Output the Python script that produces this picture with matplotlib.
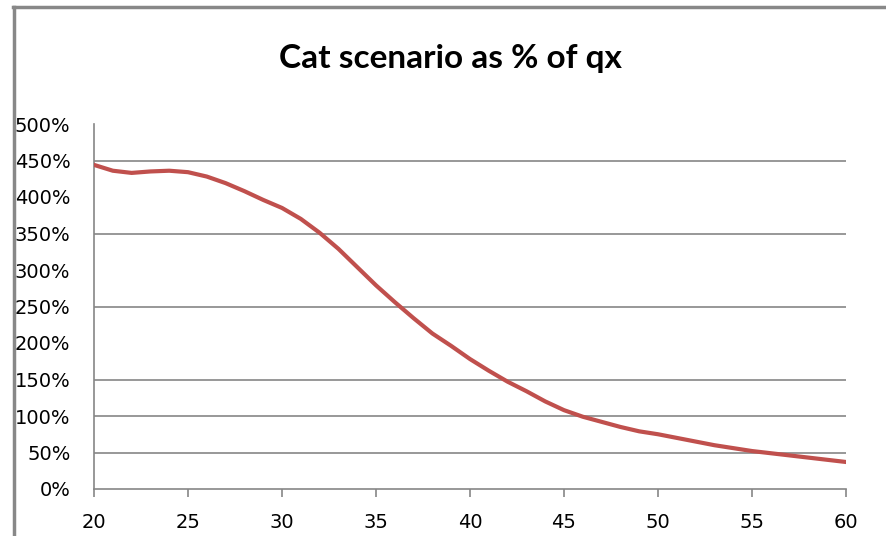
import matplotlib
matplotlib.use("Agg")
import matplotlib.pyplot as plt
from matplotlib.lines import Line2D
from matplotlib.ticker import FuncFormatter

ages = list(range(20, 61))
pct_of_qx = [444, 436, 433, 435, 436, 434, 428, 419, 408, 396,
             385, 370, 351, 329, 304, 279, 256, 234, 213, 196,
             178, 162, 147, 134, 120, 108, 99, 92, 85, 79,
             75, 70, 65, 60, 56, 52, 49, 46, 43, 40, 37]
x_ticks = [20, 25, 30, 35, 40, 45, 50, 55, 60]
y_ticks = [0, 50, 100, 150, 200, 250, 300, 350, 400, 450, 500]
visible_grid = [0, 50, 100, 150, 250, 350, 450]
title = "Cat scenario as % of qx"

W, H = 887, 536
fig = plt.figure(figsize=(W / 100, H / 100), dpi=100)
ax = fig.add_axes([94 / W, 1 - 489 / H, (846 - 94) / W, (489 - 124) / H])

grid_c = "#868686"
ax.plot(ages, pct_of_qx, color="#C0504D", lw=3.0, solid_joinstyle="round", zorder=3)
ax.set_xlim(20, 60)
ax.set_ylim(0, 500)

ax.set_xticks(x_ticks)
ax.set_yticks(y_ticks)
ax.set_yticks(visible_grid, minor=True)
ax.yaxis.set_major_formatter(FuncFormatter(lambda v, p: f"{int(v)}%"))
ax.tick_params(axis="y", which="major", length=0, pad=17, labelsize=14, labelcolor="black")
ax.tick_params(axis="y", which="minor", length=6, width=1.2, color=grid_c, direction="out")
ax.tick_params(axis="x", which="major", length=6, width=1.2, color=grid_c, pad=11,
               labelsize=14, labelcolor="black")
ax.grid(False)
for v in visible_grid[1:]:
    ax.axhline(v, color=grid_c, lw=1.2, zorder=1)

for s in ["top", "right"]:
    ax.spines[s].set_visible(False)
for s in ["left", "bottom"]:
    ax.spines[s].set_color(grid_c)
    ax.spines[s].set_linewidth(1.2)

fig.text(450 / W, 1 - 68 / H, title, ha="center", va="baseline",
         fontsize=24, fontweight="bold", family=["Lato", "DejaVu Sans"])

# chart-area border (left and top edges visible)
fig.add_artist(Line2D([14 / W, 14 / W], [0, 1 - 7 / H], transform=fig.transFigure,
                      color="#888888", lw=2.5))
fig.add_artist(Line2D([13 / W, 1], [1 - 7 / H, 1 - 7 / H], transform=fig.transFigure,
                      color="#888888", lw=2.5))

fig.savefig("out.png", dpi=100)
